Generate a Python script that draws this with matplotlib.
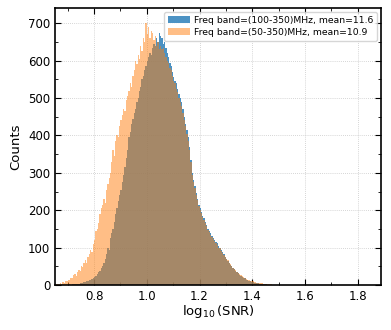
import numpy as np
import matplotlib
matplotlib.use("Agg")
import matplotlib.pyplot as plt
from matplotlib.ticker import MultipleLocator

# histogram bin edges: start 0.65, width 0.005
bin_start = 0.65
bin_width = 0.005

# Freq band (50-350) MHz counts per bin
counts_50 = [
    1, 2, 3, 2, 5, 4, 8, 6, 10, 12,
    15, 13, 20, 18, 26, 30, 24, 35, 40, 38,
    52, 48, 60, 66, 58, 75, 82, 95, 88, 110,
    120, 145, 150, 165, 190, 205, 215, 230, 220, 255,
    270, 285, 300, 330, 360, 345, 385, 400, 395, 425,
    440, 455, 470, 465, 495, 505, 520, 540, 530, 560,
    575, 600, 590, 615, 605, 640, 625, 660, 650, 700,
    670, 690, 660, 680, 675, 655, 665, 640, 650, 630,
    640, 630, 635, 620, 610, 600, 595, 580, 575, 560,
    545, 540, 525, 515, 500, 490, 480, 460, 440, 425,
    405, 385, 360, 330, 295, 275, 260, 240, 228, 212,
    200, 192, 182, 175, 165, 158, 148, 142, 135, 128,
    122, 118, 112, 108, 100, 98, 92, 86, 80, 74,
    70, 66, 60, 56, 52, 47, 44, 40, 36, 33,
    30, 27, 24, 22, 19, 17, 15, 14, 12, 11,
    10, 9, 8, 7, 7, 6, 5, 5, 4, 4,
    3, 3, 2, 2, 2, 1, 1, 1, 1, 1,
]

# Freq band (100-350) MHz counts per bin
counts_100 = [
    0, 0, 0, 0, 0, 0, 1, 0, 1, 1,
    1, 2, 1, 2, 3, 2, 3, 4, 3, 5,
    6, 7, 8, 9, 11, 12, 14, 15, 17, 19,
    22, 25, 30, 35, 38, 45, 52, 60, 70, 82,
    100, 95, 125, 140, 150, 170, 190, 205, 225, 240,
    255, 275, 295, 315, 340, 360, 395, 410, 430, 445,
    460, 470, 490, 500, 520, 530, 550, 560, 575, 585,
    600, 610, 620, 615, 635, 645, 640, 660, 650, 675,
    665, 660, 645, 650, 635, 620, 610, 595, 585, 570,
    555, 545, 540, 525, 510, 500, 490, 470, 450, 430,
    415, 395, 370, 335, 300, 280, 265, 245, 230, 215,
    205, 195, 185, 180, 170, 160, 150, 145, 140, 130,
    125, 120, 115, 112, 105, 100, 95, 88, 82, 75,
    70, 65, 60, 55, 50, 46, 44, 38, 35, 32,
    28, 25, 22, 20, 18, 15, 14, 12, 10, 9,
    8, 7, 6, 5, 5, 4, 3, 3, 3, 2,
    2, 1, 1, 1, 1, 0, 1, 0, 0, 0,
]

labels = ["Freq band=(100-350)MHz, mean=11.6", "Freq band=(50-350)MHz, mean=10.9"]

n = len(counts_50)
edges = bin_start + bin_width * np.arange(n + 1)
centers = 0.5 * (edges[:-1] + edges[1:])

fig = plt.figure(figsize=(3.91, 3.30), dpi=100)
ax = fig.add_axes([0.1407, 0.136, 0.8335, 0.839])

ax.hist(centers, bins=edges, weights=counts_100, color="tab:blue", alpha=0.8, label=labels[0])
ax.hist(centers, bins=edges, weights=counts_50, color="tab:orange", alpha=0.5, label=labels[1])

ax.set_xlim(0.652, 1.888)
ax.set_ylim(0, 740)
ax.xaxis.set_major_locator(MultipleLocator(0.2))
ax.xaxis.set_minor_locator(MultipleLocator(0.1))
ax.yaxis.set_major_locator(MultipleLocator(100))
ax.yaxis.set_minor_locator(MultipleLocator(50))
ax.tick_params(which="both", direction="in", top=True, right=True, labelsize=8.5)
ax.tick_params(which="major", length=4)
ax.tick_params(which="minor", length=2.5)
ax.set_axisbelow(True)
ax.grid(True, which="major", linestyle=(0, (1, 1.5)), color="#c8c8c8", linewidth=0.6)
for s in ax.spines.values():
    s.set_linewidth(1.2)

ax.set_xlabel(r"$\log_{10}$(SNR)", fontsize=9.5, labelpad=0)
ax.set_ylabel("Counts", fontsize=9.5, labelpad=4)
ax.legend(loc="upper right", fontsize=6.7, handlelength=2.4, borderpad=0.4,
          labelspacing=0.35, handletextpad=0.4, borderaxespad=0.4)

fig.savefig("out.png", dpi=100)
